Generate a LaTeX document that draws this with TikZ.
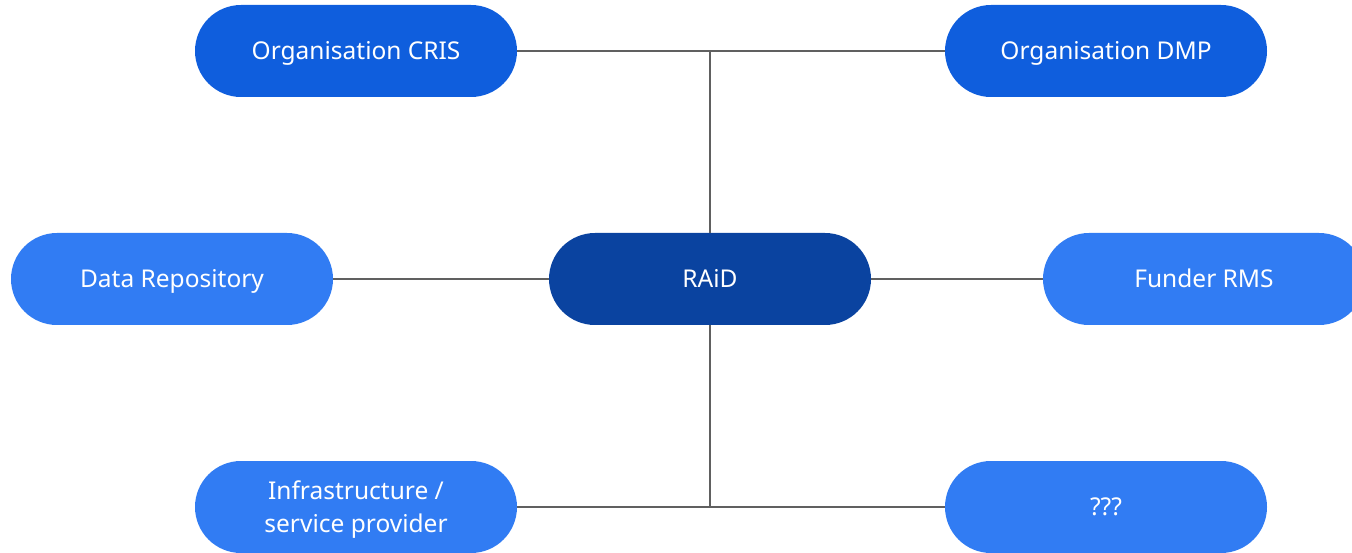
\documentclass[tikz,border=0pt]{standalone}
\usepackage{fontspec}
\setmainfont{Noto Sans}
\definecolor{raidblue}{HTML}{0A43A0}
\definecolor{orgblue}{HTML}{0F5EDD}
\definecolor{sideblue}{HTML}{317CF3}
\definecolor{linkgray}{HTML}{606060}
\begin{document}
\begin{tikzpicture}[x=1pt,y=-1pt,
  pill/.style={rectangle,rounded corners=46pt,minimum width=322pt,minimum height=92pt,
    text=white,align=center,font=\fontsize{24.5}{33}\selectfont,inner sep=0pt,
    text height=17.5pt,text depth=0pt},
  link/.style={draw=linkgray,line width=2pt}]
\useasboundingbox (0,0) rectangle (1352,553);
\node[pill,fill=orgblue] (cris) at (356,51) {Organisation CRIS};
\node[pill,fill=orgblue] (dmp) at (1106,51) {Organisation DMP};
\node[pill,fill=sideblue] (repo) at (172,279) {Data Repository};
\node[pill,fill=raidblue] (raid) at (710,279) {RAiD};
\node[pill,fill=sideblue] (funder) at (1204,279) {Funder RMS};
\node[pill,fill=sideblue,text height=50.5pt] (infra) at (356,507) {Infrastructure /\\service provider};
\node[pill,fill=sideblue] (unknown) at (1106,507) {???};
\coordinate (top) at (710,51);
\coordinate (bottom) at (710,507);
\draw[link] (cris) -- (dmp);
\draw[link] (raid) -- (top);
\draw[link] (repo) -- (raid);
\draw[link] (raid) -- (funder);
\draw[link] (raid) -- (bottom);
\draw[link] (infra) -- (unknown);
\end{tikzpicture}
\end{document}
